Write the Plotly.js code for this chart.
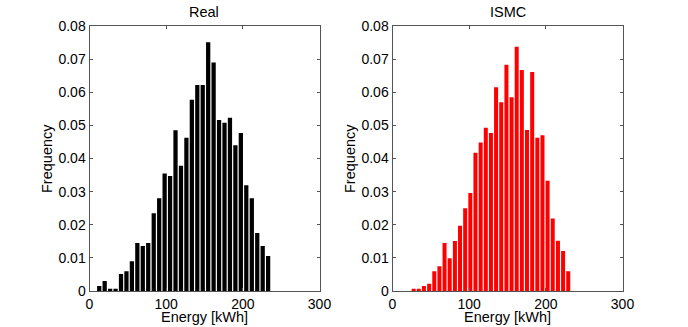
<!DOCTYPE html>
<html>
<head>
<meta charset="utf-8">
<script src="https://cdn.plot.ly/plotly-3.0.1.min.js"></script>
<style>
  html, body { margin: 0; padding: 0; background: #fff; }
  #chart { width: 688px; height: 327px; }
</style>
</head>
<body>
<div id="chart"></div>
<script>
// центры бинов и частоты
const realCenters = [12.7, 19.8, 26.9, 34.0, 41.1, 48.2, 55.3, 62.4, 69.5, 76.6, 83.8, 90.9,
    98.0, 105.1, 112.2, 119.3, 126.4, 133.5, 140.6, 147.7, 154.8, 161.9, 169.0, 176.1,
    183.2, 190.3, 197.4, 204.5, 211.7, 218.8, 225.9, 233.0];
const realFreq = [0.0015, 0.003, 0.0007, 0.0007, 0.0051, 0.006, 0.009, 0.0145, 0.0136, 0.0145, 0.0235, 0.028,
    0.0355, 0.0347, 0.0485, 0.0378, 0.0463, 0.0577, 0.0622, 0.0622, 0.0751, 0.069, 0.0516, 0.0508,
    0.0523, 0.044, 0.0477, 0.0319, 0.028, 0.0175, 0.0136, 0.0106];

const ismcCenters = [27.6, 34.3, 41.0, 47.8, 54.5, 61.2, 67.9, 74.6, 81.4, 88.1, 94.8, 101.5,
    108.2, 115.0, 121.7, 128.4, 135.1, 141.8, 148.6, 155.3, 162.0, 168.7, 175.4, 182.2,
    188.9, 195.6, 202.3, 209.0, 215.8, 222.5, 229.2];
const ismcFreq = [0.0007, 0.0007, 0.0015, 0.0022, 0.006, 0.0075, 0.0145, 0.0099, 0.0151, 0.0197, 0.025, 0.0296,
    0.0417, 0.0448, 0.0493, 0.0477, 0.0615, 0.057, 0.0683, 0.0585, 0.0737, 0.0667, 0.0486, 0.0661,
    0.0463, 0.047, 0.0333, 0.0219, 0.0152, 0.0121, 0.006];

const xTicks = [0, 100, 200, 300];
const yTicks = [0, 0.01, 0.02, 0.03, 0.04, 0.05, 0.06, 0.07, 0.08];
const yTickText = ['0', '0.01', '0.02', '0.03', '0.04', '0.05', '0.06', '0.07', '0.08'];

const W = 688, H = 327;
const FONT = 'Liberation Sans, Arial, Helvetica, sans-serif';

const traces = [
    {
        type: 'bar', x: realCenters, y: realFreq, xaxis: 'x', yaxis: 'y',
        marker: { color: '#000000', line: { width: 0 } }, width: 7.11 * 0.78
    },
    {
        type: 'bar', x: ismcCenters, y: ismcFreq, xaxis: 'x2', yaxis: 'y2',
        marker: { color: '#ff0000', line: { width: 0 } }, width: 6.72 * 0.78
    }
];

function xAxis(dom) {
    return {
        domain: dom, range: [0, 300], tickvals: xTicks, ticktext: xTicks.map(String),
        ticks: 'inside', ticklen: 3, tickcolor: '#555', showline: true, linecolor: '#555',
        linewidth: 1, mirror: 'ticks', showgrid: false, zeroline: false, fixedrange: true,
        tickfont: { family: FONT, size: 14, color: '#000' }
    };
}
function yAxis(dom, anchor) {
    return {
        domain: dom, range: [0, 0.08], tickvals: yTicks, ticktext: yTickText, anchor: anchor,
        ticks: 'inside', ticklen: 3, tickcolor: '#555', showline: true, linecolor: '#555',
        linewidth: 1, mirror: 'ticks', showgrid: false, zeroline: false, fixedrange: true,
        tickfont: { family: FONT, size: 14, color: '#000' }
    };
}

const yDom = [36 / H, 301 / H];
const leftDom = [89.5 / W, 319.5 / W];
const rightDom = [392.5 / W, 622.5 / W];

function label(text, x, y, angle) {
    return {
        text: text, x: x / W, y: 1 - y / H, xref: 'paper', yref: 'paper',
        showarrow: false, textangle: angle || 0, xanchor: 'center', yanchor: 'middle',
        font: { family: FONT, size: 14.5, color: '#000' }
    };
}

const layout = {
    width: W, height: H, margin: { l: 0, r: 0, t: 0, b: 0 },
    paper_bgcolor: '#fff', plot_bgcolor: '#fff', showlegend: false, bargap: 0.2,
    xaxis: xAxis(leftDom), yaxis: yAxis(yDom, 'x'),
    xaxis2: Object.assign(xAxis(rightDom), { anchor: 'y2' }), yaxis2: yAxis(yDom, 'x2'),
    annotations: [
        label('Real', 204.5, 11.5),
        label('ISMC', 507.5, 11.5),
        label('Energy [kWh]', 204.5, 317),
        label('Energy [kWh]', 507.5, 317),
        label('Frequency', 46.5, 158.5, -90),
        label('Frequency', 349.5, 158.5, -90)
    ]
};

Plotly.newPlot('chart', traces, layout, { displayModeBar: false, staticPlot: true });
</script>
</body>
</html>
